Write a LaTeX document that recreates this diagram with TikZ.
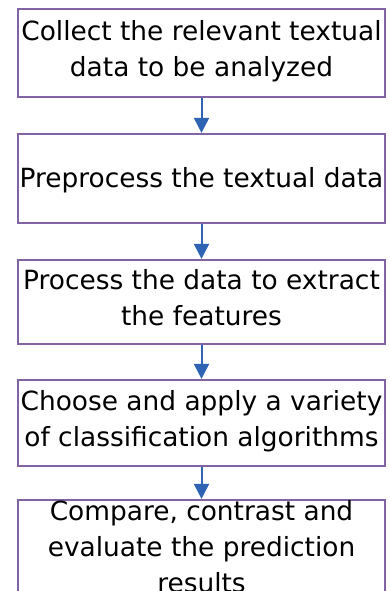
\documentclass[tikz,border=0pt]{standalone}
\usepackage{fontspec}
\setmainfont{DejaVu Sans}
\usetikzlibrary{arrows.meta,positioning}
\definecolor{stepborder}{RGB}{130,100,165}
\definecolor{stepblue}{RGB}{47,100,180}
\newcommand{\linetop}{\rule{0pt}{27pt}}
\newcommand{\linebottom}{\rule[-9pt]{0pt}{9pt}}
\tikzstyle{arrow} = [line width=2pt,-{Triangle[length=15pt,width=15pt]},color=stepblue]
\tikzstyle{stepbox} = [rectangle, minimum width=367pt, inner sep=0pt, align=center, draw=stepborder, line width=2.2pt, font=\fontsize{26.4}{36}\selectfont]
\tikzstyle{spaced} = [execute at begin node=\linetop, execute at end node=\linebottom]

\begin{document}
\begin{tikzpicture}[x=1pt,y=1pt]
\useasboundingbox (0,0) rectangle (390,-591);
% Steps of the analysis
\node (collect) [stepbox, spaced, minimum height=88pt] at (201.5,-53) {Collect the relevant textual\\data to be analyzed};
\node (preprocess) [stepbox, spaced, below of=collect, node distance=125.5pt, minimum height=89pt] {Preprocess the textual data};
\node (features) [stepbox, spaced, below of=preprocess, node distance=123.5pt, minimum height=84pt] {Process the data to extract\\the features};
\node (classify) [stepbox, spaced, below of=features, node distance=121pt, minimum height=86pt] {Choose and apply a variety\\of classification algorithms};
% last box: text runs past its frame
\node (evaluate) [stepbox, below of=classify, node distance=124pt, minimum height=94pt] {Compare, contrast and\\evaluate the prediction\\results};

% Arrows down
\draw[arrow] (collect) -- (preprocess);
\draw[arrow] (preprocess) -- (features);
\draw[arrow] (features) -- (classify);
\draw[arrow] (classify) -- (evaluate);
\end{tikzpicture}
\end{document}
